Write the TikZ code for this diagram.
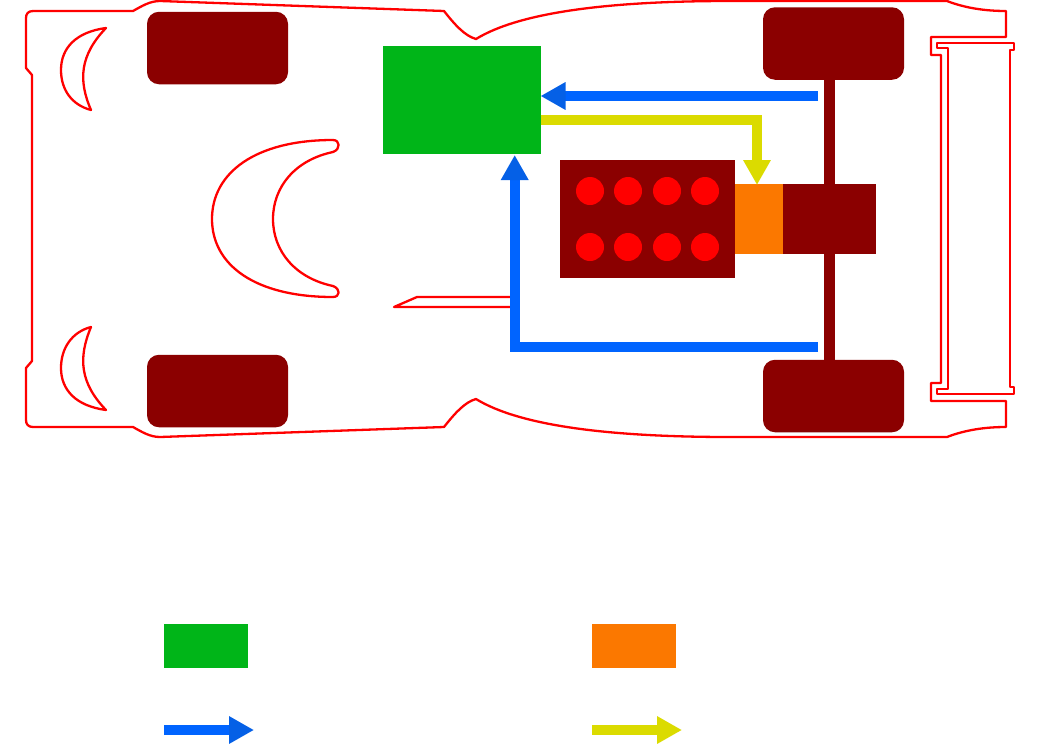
\documentclass[tikz,border=0pt]{standalone}
\usepackage{tikz}
\usetikzlibrary{arrows.meta,calc}
\definecolor{Red}{HTML}{FF0000}
\definecolor{DarkRed}{HTML}{8B0000}
\definecolor{Green}{HTML}{00B518}
\definecolor{Orange}{HTML}{FB7800}
\definecolor{Blue}{HTML}{0064FF}
\definecolor{BlueTip}{HTML}{0560E6}
\definecolor{Yellow}{HTML}{DBDB00}
\tikzset{
  outline/.style={draw=Red,line width=2.3pt,line join=round},
  part/.style={inner sep=0pt,outer sep=0pt,draw=none},
  wheel/.style={part,fill=DarkRed,minimum width=141pt,minimum height=72.5pt,rounded corners=12pt},
  cyl/.style={part,circle,fill=Red,minimum size=28pt},
  blueflow/.style={draw=Blue,line width=10pt,-{Triangle[length=25pt,width=26pt,color=BlueTip]}},
  yellowflow/.style={draw=Yellow,line width=10pt,-{Triangle[length=25pt,width=26pt]}},
}
\begin{document}
\begin{tikzpicture}[x=1pt,y=-1pt]
  \useasboundingbox(0,0)rectangle(1040,750);
  % body
  \draw[outline](133,11)..controls(142,6)and(150,1)..(160,1)--(444,11)
    ..controls(455,25)and(465,36)..(476,39)..controls(520,12)and(610,1)..(730,1)--(947,1)
    ..controls(965,8)and(985,11)..(1006,11)--(1006,37)--(931,37)--(931,55)--(941,55)
    --(941,383)--(931,383)--(931,401)--(1006,401)--(1006,427)
    ..controls(985,427)and(965,430)..(947,437)--(730,437)..controls(610,437)and(520,426)..(476,399)
    ..controls(465,402)and(455,413)..(444,427)--(160,437)..controls(150,437)and(142,432)..(133,427)
    --(33,427)..controls(28,427)and(26,424)..(26,420)--(26,368)--(32,361)--(32,75)--(26,68)
    --(26,18)..controls(26,14)and(28,11)..(33,11)--cycle;
  % rear wing
  \draw[outline](937,43)--(1014,43)--(1014,50)--(1010,50)--(1010,387)--(1014,387)--(1014,394)
    --(937,394)--(937,389)--(948,389)--(948,48)--(937,48)--cycle;
  % lights
  \draw[outline](106,28)..controls(76,32)and(61,48)..(61,70)..controls(61,90)and(72,105)..(91,110)
    ..controls(78,80)and(80,55)..(106,28)--cycle;
  \draw[outline](91,327)..controls(72,332)and(61,348)..(61,368)..controls(61,390)and(76,406)..(106,410)
    ..controls(80,383)and(78,358)..(91,327)--cycle;
  % cockpit
  \draw[outline](333,140)..controls(340,140)and(341,149)..(333,152)..controls(295,160)and(273,187)..(273,219)
    ..controls(273,251)and(295,278)..(333,286)..controls(341,289)and(340,297)..(333,297)
    ..controls(255,297)and(212,265)..(212,219)..controls(212,173)and(255,140)..(333,140)--cycle;
  \draw[outline](510,297)--(417,297)--(394,307)--(510,307);
  % wheels and drive line
  \node[part,fill=DarkRed,minimum width=11pt,minimum height=282pt](axle)at(829.5,220){};
  \node[wheel](wheelFL)at(217.5,48){};
  \node[wheel](wheelRL)at(217.5,391){};
  \node[wheel](wheelFR)at(833.5,43.5){};
  \node[wheel](wheelRR)at(833.5,396){};
  \node[part,fill=DarkRed,minimum width=94pt,minimum height=70pt](gear)at(829,219){};
  \node[part,fill=Orange,minimum width=47.5pt,minimum height=70pt](clutch)at(758.75,219){};
  \node[part,fill=DarkRed,minimum width=175pt,minimum height=118.5pt](engine)at(647.5,219){};
  \foreach \i/\x in {1/590,2/628,3/667,4/705}{
    \node[cyl](cylA\i)at(\x,191){};
    \node[cyl](cylB\i)at(\x,247){};
  }
  \node[part,fill=Green,minimum width=158pt,minimum height=108pt](tank)at(461.5,100){};
  % flows
  \coordinate(feedstart)at(818,96);
  \coordinate(returnstart)at(818,347);
  \coordinate(returnend)at(514.7,155);
  \coordinate(coolstart)at(540.5,120);
  \coordinate(coolend)at(757,185);
  \draw[blueflow](feedstart)--(feedstart-|tank.east);
  \draw[blueflow](returnstart)-|(returnend);
  \draw[yellowflow](coolstart)-|(coolend);
  % legend
  \node[part,fill=Green,minimum width=84pt,minimum height=44pt](keyGreen)at(206,646){};
  \node[part,fill=Orange,minimum width=84pt,minimum height=44pt](keyOrange)at(634,646){};
  \coordinate(keyBlueA)at(164,730);
  \coordinate(keyBlueB)at(254,730);
  \coordinate(keyYellowA)at(592,730);
  \coordinate(keyYellowB)at(682,730);
  \draw[blueflow](keyBlueA)--(keyBlueB);
  \draw[yellowflow](keyYellowA)--(keyYellowB);
\end{tikzpicture}
\end{document}
